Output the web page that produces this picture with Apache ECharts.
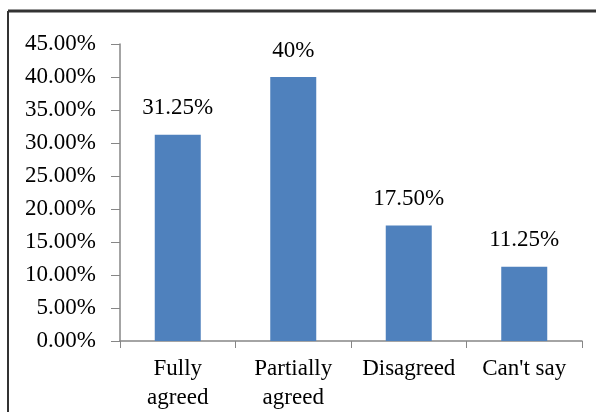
<!DOCTYPE html>
<html>
<head>
<meta charset="utf-8">
<script src="https://cdn.jsdelivr.net/npm/echarts@6/dist/echarts.min.js"></script>
<style>
  html, body { margin: 0; padding: 0; background: #fff; }
  #main { width: 596px; height: 412px; }
</style>
</head>
<body>
<div id="main"></div>
<script>
// data
const categories = ['Fully\nagreed', 'Partially\nagreed', 'Disagreed', "Can't say"];
const values = [31.25, 40, 17.5, 11.25];
const valueLabels = ['31.25%', '40%', '17.50%', '11.25%'];

const font = 'Liberation Serif';

const chart = echarts.init(document.getElementById('main'));

const option = {
  animation: false,
  backgroundColor: '#fff',
  grid: { left: 120, right: 14, top: 44, bottom: 71 },
  graphic: [
    { type: 'line', shape: { x1: 8, y1: 11, x2: 596, y2: 11 }, style: { stroke: '#333', lineWidth: 3 } },
    { type: 'line', shape: { x1: 8, y1: 11, x2: 8, y2: 412 }, style: { stroke: '#333', lineWidth: 2 } }
  ],
  xAxis: {
    type: 'category',
    data: categories,
    axisLine: { lineStyle: { color: '#868686', width: 1.5 } },
    axisTick: { show: true, length: 7, lineStyle: { color: '#868686' } },
    axisLabel: {
      color: '#000', fontFamily: font, fontSize: 23, lineHeight: 29, margin: 13, interval: 0
    }
  },
  yAxis: {
    type: 'value',
    min: 0, max: 45, interval: 5,
    splitLine: { show: false },
    axisLine: { show: true, lineStyle: { color: '#868686', width: 1.5 } },
    axisTick: { show: true, length: 9, lineStyle: { color: '#868686' } },
    axisLabel: {
      color: '#000', fontFamily: font, fontSize: 23, margin: 24,
      formatter: v => v.toFixed(2) + '%'
    }
  },
  series: [{
    type: 'bar',
    data: values,
    barWidth: 46,
    itemStyle: { color: '#4F81BD' },
    label: {
      show: true,
      position: 'top',
      distance: 15,
      color: '#000',
      fontFamily: font,
      fontSize: 23,
      formatter: p => valueLabels[p.dataIndex]
    }
  }]
};

chart.setOption(option);
</script>
</body>
</html>
